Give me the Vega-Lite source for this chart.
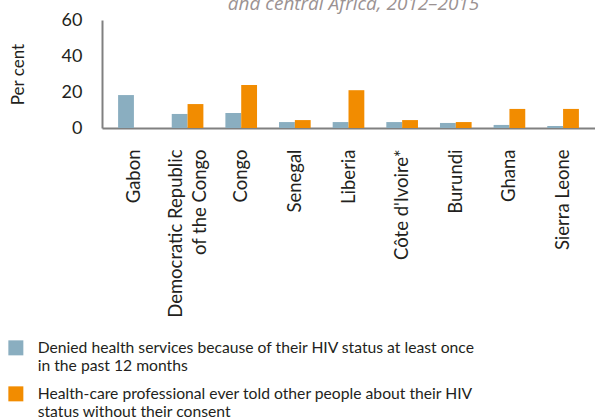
{
  "$schema": "https://vega.github.io/schema/vega-lite/v6.json",
  "width": 493,
  "height": 108,
  "autosize": {"type": "none"},
  "padding": {"left": 102, "top": 20, "right": 0, "bottom": 291},
  "title": {
    "text": "and central Africa, 2012–2015",
    "font": "Open Sans",
    "fontSize": 19,
    "fontStyle": "italic",
    "fontWeight": "normal",
    "color": "#9b9292",
    "anchor": "middle",
    "offset": -3,
    "dx": 5
  },
  "data": {
    "values": [
      {"country": "Gabon", "series": "Denied", "value": 18.3},
      {"country": "Democratic Republic of the Congo", "series": "Denied", "value": 7.8},
      {"country": "Democratic Republic of the Congo", "series": "Told", "value": 13.3},
      {"country": "Congo", "series": "Denied", "value": 8.3},
      {"country": "Congo", "series": "Told", "value": 23.9},
      {"country": "Senegal", "series": "Denied", "value": 3.3},
      {"country": "Senegal", "series": "Told", "value": 4.4},
      {"country": "Liberia", "series": "Denied", "value": 3.3},
      {"country": "Liberia", "series": "Told", "value": 21.0},
      {"country": "Côte d'Ivoire*", "series": "Denied", "value": 3.3},
      {"country": "Côte d'Ivoire*", "series": "Told", "value": 4.4},
      {"country": "Burundi", "series": "Denied", "value": 2.8},
      {"country": "Burundi", "series": "Told", "value": 3.3},
      {"country": "Ghana", "series": "Denied", "value": 1.7},
      {"country": "Ghana", "series": "Told", "value": 10.6},
      {"country": "Sierra Leone", "series": "Denied", "value": 1.1},
      {"country": "Sierra Leone", "series": "Told", "value": 10.6}
    ]
  },
  "mark": {"type": "bar"},
  "encoding": {
    "x": {
      "field": "country",
      "type": "nominal",
      "sort": null,
      "scale": {"paddingInner": 0.41, "paddingOuter": 0.3},
      "axis": {
        "title": null,
        "labelAngle": -90,
        "labelFont": "Lato",
        "labelFontSize": 18.5,
        "labelColor": "#231f20",
        "labelPadding": 21,
        "labelLineHeight": 24,
        "labelLimit": 300,
        "labelOffset": {"condition": {"test": "datum.value == 'Democratic Republic of the Congo'", "value": -12}, "value": 0},
        "ticks": false,
        "domainColor": "#808080",
        "domainWidth": 2,
        "labelExpr": "datum.value == 'Democratic Republic of the Congo' ? ['Democratic Republic', 'of the Congo'] : datum.value"
      }
    },
    "xOffset": {"field": "series", "type": "nominal", "scale": {"domain": ["Denied", "Told"]}},
    "y": {
      "field": "value",
      "type": "quantitative",
      "scale": {"domain": [0, 60]},
      "axis": {
        "title": "Per cent",
        "titleFont": "Lato",
        "titleFontSize": 17,
        "titleFontWeight": "normal",
        "titleColor": "#231f20",
        "titlePadding": 34,
        "values": [0, 20, 40, 60],
        "labelFont": "Lato",
        "labelFontSize": 18,
        "labelColor": "#231f20",
        "labelPadding": 20,
        "ticks": false,
        "grid": false,
        "domainColor": "#808080",
        "domainWidth": 2
      }
    },
    "color": {
      "field": "series",
      "type": "nominal",
      "scale": {"domain": ["Denied", "Told"], "range": ["#8aaec0", "#f28c00"]},
      "legend": {
        "title": null,
        "orient": "none",
        "legendX": -94,
        "legendY": 320,
        "direction": "vertical",
        "symbolType": "square",
        "symbolSize": 225,
        "symbolStrokeWidth": 0,
        "labelFont": "Lato",
        "labelFontSize": 15.7,
        "labelColor": "#231f20",
        "labelLineHeight": 18,
        "labelLimit": 560,
        "labelOffset": 14,
        "labelBaseline": "middle",
        "rowPadding": 11,
        "padding": 0,
        "labelExpr": "datum.value == 'Denied' ? ['Denied health services because of their HIV status at least once', 'in the past 12 months'] : ['Health-care professional ever told other people about their HIV', 'status without their consent']"
      }
    }
  },
  "config": {"view": {"stroke": null}}
}
